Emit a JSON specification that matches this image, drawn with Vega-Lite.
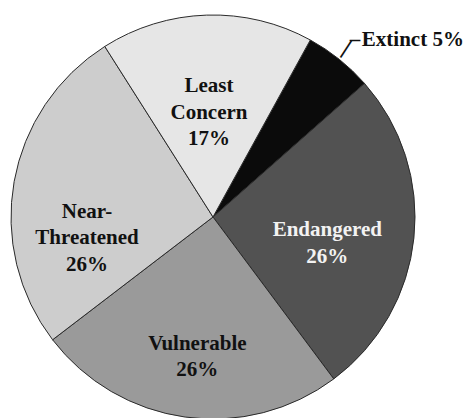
{
  "$schema": "https://vega.github.io/schema/vega-lite/v6.json",
  "width": 426,
  "height": 404,
  "padding": {"left": 0, "top": 15, "right": 42, "bottom": 0},
  "autosize": {"type": "none"},
  "background": "white",
  "config": {"view": {"stroke": null}},
  "data": {
    "values": [
      {"rank": 1, "category": "Extinct", "pct": 5.5, "label": "Extinct 5%"},
      {"rank": 2, "category": "Endangered", "pct": 26.3, "label": "Endangered\n26%"},
      {"rank": 3, "category": "Vulnerable", "pct": 24.8, "label": "Vulnerable\n26%"},
      {"rank": 4, "category": "Near-Threatened", "pct": 26.4, "label": "Near-\nThreatened\n26%"},
      {"rank": 5, "category": "Least Concern", "pct": 17.0, "label": "Least\nConcern\n17%"}
    ]
  },
  "encoding": {
    "theta": {"field": "pct", "type": "quantitative", "stack": true, "scale": {"range": [0.5027, 6.7859]}},
    "order": {"field": "rank", "type": "quantitative"}
  },
  "layer": [
    {
      "mark": {"type": "arc", "outerRadius": 202, "stroke": "#2a2a2a", "strokeWidth": 1},
      "encoding": {
        "color": {
          "field": "category",
          "type": "nominal",
          "scale": {
            "domain": ["Extinct", "Endangered", "Vulnerable", "Near-Threatened", "Least Concern"],
            "range": ["#0b0b0b", "#525252", "#9a9a9a", "#cdcdcd", "#e6e6e6"]
          },
          "legend": null
        }
      }
    },
    {
      "mark": {
        "type": "text",
        "radius": 128,
        "font": "Liberation Serif",
        "fontWeight": "bold",
        "fontSize": 21,
        "lineBreak": "\n",
        "lineHeight": 26.5,
        "align": "center",
        "baseline": "middle",
        "dx": {"expr": "datum.category === 'Endangered' ? -13 : (datum.category === 'Vulnerable' ? 2 : 0)"},
        "dy": {"expr": "datum.category === 'Near-Threatened' ? 17 : (datum.category === 'Least Concern' ? -3 : 0)"}
      },
      "encoding": {
        "text": {"condition": {"test": "datum.category === 'Extinct'", "value": ""}, "field": "label"},
        "color": {"condition": {"test": "datum.category === 'Endangered'", "value": "#f2f2f2"}, "value": "#111111"}
      }
    },
    {
      "mark": {
        "type": "text",
        "radius": 226,
        "font": "Liberation Serif",
        "fontWeight": "bold",
        "fontSize": 21,
        "align": "left",
        "baseline": "alphabetic",
        "dx": 7.5,
        "dy": 5.5,
        "color": "#111111"
      },
      "encoding": {
        "text": {"condition": {"test": "datum.category !== 'Extinct'", "value": ""}, "field": "label"}
      }
    },
    {
      "mark": {
        "type": "text",
        "radius": 226,
        "font": "Liberation Serif",
        "fontWeight": "bold",
        "fontSize": 21,
        "align": "left",
        "baseline": "alphabetic",
        "dx": -4.5,
        "dy": 5.5,
        "color": "#111111"
      },
      "encoding": {
        "text": {"condition": {"test": "datum.category !== 'Extinct'", "value": ""}, "value": "–"}
      }
    },
    {
      "mark": {
        "type": "text",
        "radius": 212,
        "font": "DejaVu Sans",
        "fontSize": 20,
        "align": "center",
        "baseline": "middle",
        "angle": 33,
        "dx": -1,
        "dy": -3,
        "color": "#111111"
      },
      "encoding": {
        "text": {"condition": {"test": "datum.category !== 'Extinct'", "value": ""}, "value": "|"}
      }
    }
  ]
}
